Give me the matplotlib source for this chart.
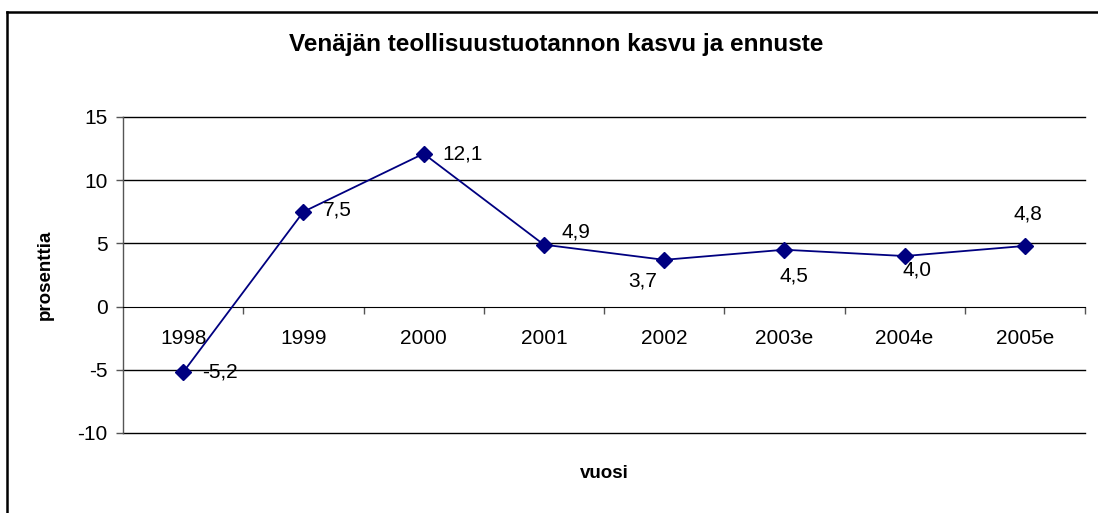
import numpy as np
import matplotlib
matplotlib.use("Agg")
from matplotlib import pyplot as plt
from matplotlib.lines import Line2D

plt.rcParams['font.family'] = ['Liberation Sans', 'DejaVu Sans']

years = ['1998', '1999', '2000', '2001', '2002', '2003e', '2004e', '2005e']
growth = [-5.2, 7.5, 12.1, 4.9, 3.7, 4.5, 4.0, 4.8]
# label offsets in pixels (dx, dy) and horizontal alignment
label_pos = [(19, 0, 'left'), (19, 2, 'left'), (19, 0, 'left'), (18, 13, 'left'),
             (-7, -21, 'right'), (10, -26, 'center'), (-2, -14, 'left'), (3, 32, 'center')]

W, H = 1098, 513
fig = plt.figure(figsize=(W / 100, H / 100), dpi=100)
ax = fig.add_axes([123 / W, 1 - 433 / H, 962 / W, 316 / H])

x = np.arange(len(years))
ax.plot(x, growth, color='#000080', lw=1.3, marker='D', ms=8.5, zorder=5)

ax.set_xlim(-0.5, len(years) - 0.5)
ax.set_ylim(-10, 15)
for y in [-10, -5, 5, 10, 15]:
    ax.axhline(y, color='black', lw=1, zorder=1, clip_on=False)

for s in ['top', 'right']:
    ax.spines[s].set_visible(False)
ax.spines['bottom'].set_position(('data', 0))
ax.spines['left'].set_color('#555555')
ax.spines['left'].set_linewidth(1)

ax.set_yticks([-10, -5, 0, 5, 10, 15])
ax.set_yticklabels(['-10', '-5', '0', '5', '10', '15'], fontsize=15)
ax.tick_params(axis='y', length=5, width=1, color='#555555', pad=6)

ax.set_xticks(x)
ax.set_xticklabels(years, fontsize=15)
ax.set_xticks(np.arange(0.5, len(years), 1), minor=True)
ax.tick_params(axis='x', which='major', length=0, pad=16)
ax.tick_params(axis='x', which='minor', length=5, width=1, color='#555555')

for xi, v, (dx, dy, ha) in zip(x, growth, label_pos):
    ax.annotate(f'{v:.1f}'.replace('.', ','), (xi, v), xytext=(dx * 0.72, dy * 0.72),
                textcoords='offset points', ha=ha, va='center', fontsize=15, zorder=6)

fig.text(556 / W, 1 - 44 / H, 'Venäjän teollisuustuotannon kasvu ja ennuste',
         ha='center', va='center', fontsize=17.5, fontweight='bold')
fig.text(45 / W, 1 - 275 / H, 'prosenttia', ha='center', va='center',
         rotation=90, fontsize=13.5, fontweight='bold')
fig.text(604 / W, 1 - 474 / H, 'vuosi', ha='center', va='center',
         fontsize=13.5, fontweight='bold')

# chart frame (only top and left edges visible)
fig.add_artist(Line2D([7 / W, 7 / W], [0, 1 - 12 / H], color='black', lw=1.8,
                      transform=fig.transFigure))
fig.add_artist(Line2D([7 / W, 1], [1 - 12 / H, 1 - 12 / H], color='black', lw=1.8,
                      transform=fig.transFigure))

fig.savefig('out.png', dpi=100)
